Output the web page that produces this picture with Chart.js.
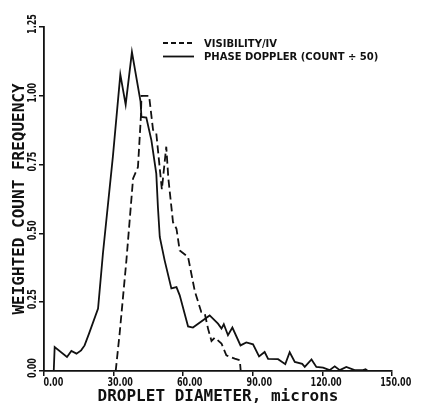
<!DOCTYPE html>
<html>
<head>
<meta charset="utf-8">
<script src="https://cdn.jsdelivr.net/npm/chart.js@4.4.0/dist/chart.umd.min.js"></script>
<style>
  html, body { margin: 0; padding: 0; background: #fff; }
  #wrap { width: 434px; height: 408px; }
</style>
</head>
<body>
<div id="wrap"><canvas id="chart" width="434" height="408"></canvas></div>
<script>
// Eixos
const xTicks = [0, 30, 60, 90, 120, 150]
const yTicks = [0, 0.25, 0.5, 0.75, 1.0, 1.25]

// Phase Doppler (count ÷ 50) - linha cheia
const phaseX = [0, 4.2, 4.6, 9.9, 11.8, 14.0, 16.0, 17.5, 19.4, 23.3,
  25.4, 29.7, 32.9, 35.2, 37.9, 41.6, 42.0, 44.1, 46.3, 48.4,
  49.1, 49.9, 52.0, 54.9, 57.1, 58.5, 62.1, 64.2, 71.4, 75.0,
  76.5, 77.5, 79.3, 81.2, 84.7, 87.2, 90.1, 92.7, 95.1, 96.6,
  100.9, 104.0, 105.9, 108.1, 111.3, 112.4, 115.3, 117.4, 120.3, 123.1,
  125.3, 127.5, 130.3, 133.9, 137.5, 138.6, 139.6]
const phaseY = [0, 0, 0.087, 0.051, 0.073, 0.063, 0.075, 0.093, 0.136, 0.227,
  0.427, 0.78, 1.077, 0.968, 1.159, 0.98, 0.923, 0.921, 0.838, 0.717,
  0.596, 0.487, 0.402, 0.300, 0.305, 0.275, 0.162, 0.158, 0.202, 0.172,
  0.154, 0.170, 0.130, 0.158, 0.093, 0.104, 0.097, 0.053, 0.069, 0.044,
  0.043, 0.025, 0.068, 0.033, 0.026, 0.015, 0.042, 0.015, 0.012, 0.003,
  0.017, 0.003, 0.015, 0.003, 0.003, 0.006, 0]

// Visibility/IV - linha tracejada
const visX = [30.9, 32.6, 35.5, 38.4, 40.5, 41.8, 42.0, 45.3, 47.0, 48.4,
  50.8, 52.7, 53.6, 55.6, 57.1, 58.5, 62.1, 65.0, 67.8, 69.3,
  70.7, 72.2, 73.6, 76.5, 78.6, 82.2, 84.4, 84.8]
const visY = [0, 0.136, 0.40, 0.70, 0.741, 0.93, 1.0, 1.0, 0.876, 0.864,
  0.66, 0.815, 0.70, 0.541, 0.517, 0.438, 0.414, 0.29, 0.214, 0.209,
  0.154, 0.109, 0.121, 0.10, 0.057, 0.045, 0.039, 0]

const INK = "#111"
const tickFont = 'bold 13px "DejaVu Sans"'
const NARROW = 0.62 // compressão horizontal, imita a letra do plotter
const legendFont = 'bold 10px "DejaVu Sans"'

const toPoints = (xs, ys) => xs.map((x, i) => ({ x, y: ys[i] }))

// escreve texto comprimido na direção da leitura
function narrowText(ctx, text, x, y, align, angle) {
  ctx.save()
  ctx.translate(x, y)
  if (angle) ctx.rotate(angle)
  ctx.scale(NARROW, 1)
  ctx.textAlign = align
  ctx.fillText(text, 0, 0)
  ctx.restore()
}

// Textos no estilo plotter: rótulos dos ticks e legenda
const plotterText = {
  id: "plotterText",
  afterDraw(chart) {
    const { ctx, chartArea } = chart
    const xs = chart.scales.x
    const ys = chart.scales.y
    ctx.save()
    ctx.fillStyle = INK
    ctx.strokeStyle = INK
    ctx.font = tickFont

    // rótulos do eixo x (ponto decimal logo à direita do tick)
    ctx.textBaseline = "top"
    xTicks.forEach(v => {
      const px = xs.getPixelForValue(v) + 5
      const [ip, dp] = v.toFixed(2).split(".")
      narrowText(ctx, ip, px, ys.bottom + 5, "right")
      narrowText(ctx, "." + dp, px, ys.bottom + 5, "left")
    })

    // rótulos do eixo y (girados)
    ctx.textBaseline = "middle"
    yTicks.forEach(v => {
      narrowText(ctx, v.toFixed(2), xs.left - 11, ys.getPixelForValue(v) - 3, "center", -Math.PI / 2)
    })

    // legenda
    const lx = chartArea.left + 119
    const ly = chartArea.top + 16
    ctx.lineWidth = 1.8
    ctx.setLineDash([5, 3])
    ctx.beginPath()
    ctx.moveTo(lx, ly)
    ctx.lineTo(lx + 31, ly)
    ctx.stroke()
    ctx.setLineDash([])
    ctx.beginPath()
    ctx.moveTo(lx, ly + 13.5)
    ctx.lineTo(lx + 31, ly + 13.5)
    ctx.stroke()
    ctx.font = legendFont
    ctx.textAlign = "left"
    ctx.textBaseline = "middle"
    ctx.fillText("VISIBILITY/IV", lx + 41, ly + 1)
    ctx.fillText("PHASE DOPPLER (COUNT ÷ 50)", lx + 41, ly + 14.5)
    ctx.restore()
  }
}

new Chart(document.getElementById("chart"), {
  type: "scatter",
  data: {
    datasets: [
      {
        label: "VISIBILITY/IV",
        data: toPoints(visX, visY),
        showLine: true,
        borderColor: INK,
        borderWidth: 1.8,
        borderDash: [8, 4],
        pointRadius: 0,
        tension: 0,
      },
      {
        label: "PHASE DOPPLER (COUNT ÷ 50)",
        data: toPoints(phaseX, phaseY),
        showLine: true,
        borderColor: INK,
        borderWidth: 1.8,
        pointRadius: 0,
        tension: 0,
      },
    ],
  },
  options: {
    responsive: false,
    animation: false,
    layout: { padding: { left: 0, right: 42, top: 27, bottom: 0 } },
    plugins: {
      legend: { display: false },
      tooltip: { enabled: false },
    },
    scales: {
      x: {
        type: "linear",
        min: 0,
        max: 150,
        afterBuildTicks: s => { s.ticks = xTicks.map(v => ({ value: v })) },
        afterFit: s => { s.height = 37 },
        ticks: { display: false },
        grid: { display: true, drawOnChartArea: false, drawTicks: true, tickLength: 5, color: INK, lineWidth: 1.5 },
        border: { display: true, color: INK, width: 1.8 },
        title: {
          display: true,
          text: "DROPLET DIAMETER, microns",
          color: INK,
          font: { family: "DejaVu Sans Mono", size: 16, weight: "bold" },
          padding: { top: 0, bottom: 2 },
        },
      },
      y: {
        type: "linear",
        min: 0,
        max: 1.25,
        afterBuildTicks: s => { s.ticks = yTicks.map(v => ({ value: v })) },
        afterFit: s => { s.width = 44 },
        ticks: { display: false },
        grid: { display: true, drawOnChartArea: false, drawTicks: true, tickLength: 5, color: INK, lineWidth: 1.5 },
        border: { display: true, color: INK, width: 1.8 },
        title: {
          display: true,
          text: "WEIGHTED COUNT FREQUENCY",
          color: INK,
          font: { family: "DejaVu Sans Mono", size: 16, weight: "bold" },
          padding: { top: 10, bottom: 0 },
        },
      },
    },
  },
  plugins: [plotterText],
})
</script>
</body>
</html>
